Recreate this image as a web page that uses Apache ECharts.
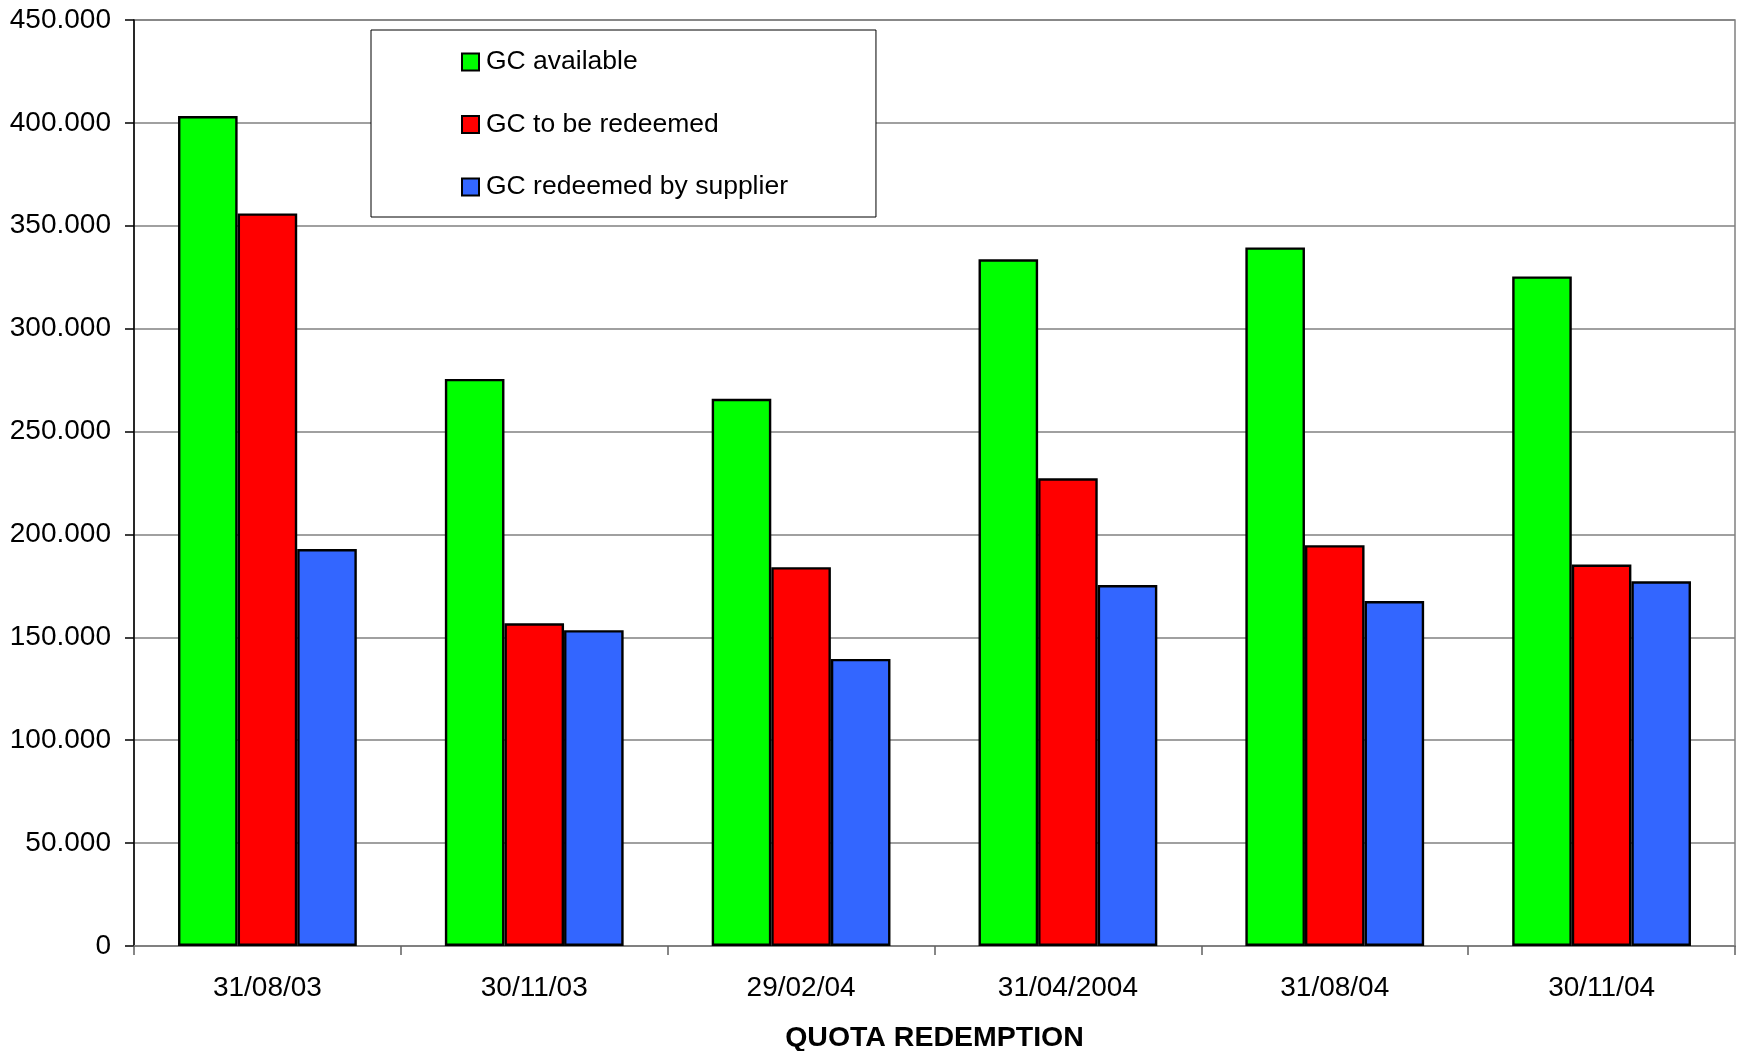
<!DOCTYPE html>
<html>
<head>
<meta charset="utf-8">
<script src="https://cdn.jsdelivr.net/npm/echarts@6/dist/echarts.min.js"></script>
<style>
  html, body { margin: 0; padding: 0; background: #fff; }
  #chart { width: 1738px; height: 1051px; }
</style>
</head>
<body>
<div id="chart"></div>
<script>
// Quota redemption dates
const categories = ['31/08/03', '30/11/03', '29/02/04', '31/04/2004', '31/08/04', '30/11/04'];

// Series values
const gcAvailable = [403300, 275600, 265900, 333700, 339500, 325400];
const gcToBeRedeemed = [356000, 156800, 184100, 227300, 194800, 185400];
const gcRedeemedBySupplier = [192900, 153500, 139500, 175400, 167600, 177200];

const seriesNames = ['GC available', 'GC to be redeemed', 'GC redeemed by supplier'];
const axisTitle = 'QUOTA REDEMPTION';

const FONT = '"Liberation Sans", Arial, sans-serif';

// 450000 -> "450.000"
function fmt(v) {
  return String(v).replace(/\B(?=(\d{3})+(?!\d))/g, '.');
}

function barSeries(name, data, color) {
  return {
    name: name,
    type: 'bar',
    data: data,
    barGap: '0%',
    barCategoryGap: '33%',
    itemStyle: { color: color, borderColor: '#000', borderWidth: 2.4 }
  };
}

const chart = echarts.init(document.getElementById('chart'), null, { renderer: 'canvas' });
chart.setOption({
  animation: false,
  backgroundColor: '#fff',
  grid: {
    left: 134, right: 3, top: 20, bottom: 105,
    outerBoundsMode: 'none',
    containLabel: false,
    show: true, borderColor: '#808080', borderWidth: 1.5, backgroundColor: 'transparent'
  },
  legend: {
    orient: 'vertical',
    left: 371, top: 30,
    padding: [17, 88, 15, 90],
    itemWidth: 17, itemHeight: 17, itemGap: 32.5,
    icon: 'rect',
    backgroundColor: '#fff',
    borderColor: '#000', borderWidth: 1,
    textStyle: { fontFamily: FONT, fontSize: 26.5, color: '#000', lineHeight: 30, padding: [0, 0, 0, 2] },
    data: seriesNames
  },
  xAxis: {
    type: 'category',
    data: categories,
    boundaryGap: true,
    name: axisTitle,
    nameLocation: 'middle',
    nameGap: 78,
    nameTextStyle: { fontFamily: FONT, fontSize: 28.5, fontWeight: 'bold', color: '#000' },
    axisLine: { lineStyle: { color: '#808080', width: 2 } },
    axisTick: { show: true, length: 9, lineStyle: { color: '#606060', width: 1.5 } },
    axisLabel: { fontFamily: FONT, fontSize: 28, color: '#000', margin: 28 },
    splitLine: { show: false }
  },
  yAxis: {
    type: 'value',
    min: 0, max: 450000, interval: 50000,
    axisLine: { show: true, lineStyle: { color: '#000', width: 1.5 } },
    axisTick: { show: true, length: 9, lineStyle: { color: '#000', width: 1.5 } },
    axisLabel: { fontFamily: FONT, fontSize: 28, color: '#000', margin: 23, formatter: fmt },
    splitLine: { show: true, lineStyle: { color: '#808080', width: 1.5 } }
  },
  series: [
    barSeries(seriesNames[0], gcAvailable, '#00FF00'),
    barSeries(seriesNames[1], gcToBeRedeemed, '#FF0000'),
    barSeries(seriesNames[2], gcRedeemedBySupplier, '#3366FF')
  ]
});
</script>
</body>
</html>
